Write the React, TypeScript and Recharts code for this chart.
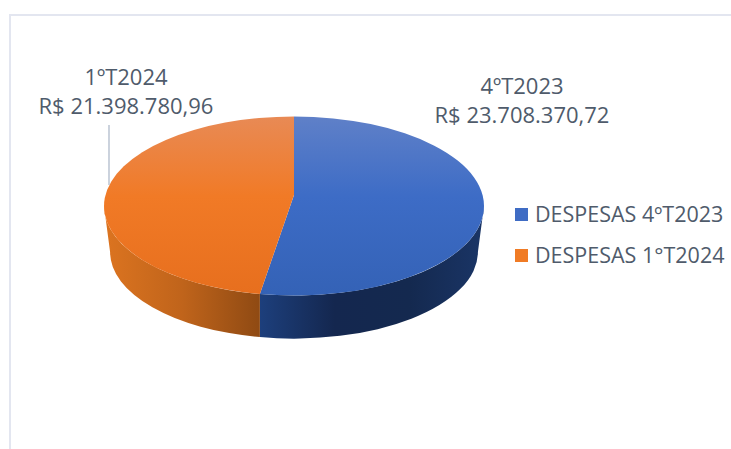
import React from 'react';
import { PieChart, Pie, Legend } from 'recharts';

const labelNames = ['4ºT2023', '1ºT2024'];
const legendNames = ['DESPESAS 4ºT2023', 'DESPESAS 1°T2024'];
const values = [23708370.72, 21398780.96];
const valueLabels = ['R$ 23.708.370,72', 'R$ 21.398.780,96'];

const TEXT_COLOR = '#4f5b6b';
const LEGEND_COLORS = ['#3f6cc4', '#f07b25'];
const FONT = '"Open Sans", sans-serif';

const tableData = legendNames.map((name, i) => ({
  name,
  label: labelNames[i],
  value: values[i],
  valueLabel: valueLabels[i],
  fill: LEGEND_COLORS[i],
}));

// squash factor of the tilted disc, and height of its side wall
const TILT = 0.471;
const DEPTH = 46;
const APEX_SHIFT = 11;
// the underside of the disc looks a little smaller than the top
const UNDER_SCALE = 0.968;

const gradients = [
  { top: ['#5f80c8', '#3d6cc6', '#3462b6'], wall: ['#1d3f7c', '#14274f', '#14294f', '#1a3566'] },
  { top: ['#e88a55', '#f17a26', '#e76f1e'], wall: ['#dc7420', '#c0641b', '#8f4a13'] },
];

// perspective: the slice edge leaves the raised apex and runs to the rim,
// so the angle on the ellipse differs a little from the data angle
const rimAngle = (deg: number, ry: number) => {
  const r = (deg * Math.PI) / 180;
  const dx = Math.cos(r);
  const dy = -ry * Math.sin(r);
  const s = APEX_SHIFT / ry;
  const a = dx * dx + (dy / ry) * (dy / ry);
  const b = (-2 * s * dy) / ry;
  const c = s * s - 1;
  const t = (-b + Math.sqrt(b * b - 4 * a * c)) / (2 * a);
  const u = t * dx;
  const v = t * dy - APEX_SHIFT;
  const base = (Math.atan2(-v / ry, u) * 180) / Math.PI;
  // keep it on the same turn as the data angle
  return base + Math.round((deg - base) / 360) * 360;
};

const Slice3D = (props: any) => {
  const { cx, cy, outerRadius, startAngle, endAngle, index } = props;
  const rx = outerRadius;
  const ry = outerRadius * TILT;
  const rxB = rx * UNDER_SCALE;
  const ryB = ry * UNDER_SCALE;
  const pt = (deg: number) => {
    const r = (deg * Math.PI) / 180;
    return [cx + rx * Math.cos(r), cy - ry * Math.sin(r)];
  };
  // point on the underside rim straight below a top rim x
  const under = (x: number) => {
    const c = Math.max(-1, Math.min(1, (x - cx) / rxB));
    return [cx + rxB * c, cy + DEPTH + ryB * Math.sqrt(1 - c * c)];
  };
  const from = rimAngle(startAngle, ry);
  const to = rimAngle(endAngle, ry);
  const [sx, sy] = pt(from);
  const [ex, ey] = pt(to);
  const large = Math.abs(from - to) > 180 ? 1 : 0;
  const top = `M${cx},${cy - APEX_SHIFT} L${sx},${sy} A${rx},${ry} 0 ${large} 1 ${ex},${ey} Z`;

  // only the front half of the rim shows a wall
  const wallStart = Math.min(from, 0);
  const wallEnd = Math.max(to, -180);
  let wall = '';
  if (wallStart > wallEnd) {
    const [ax, ay] = pt(wallStart);
    const [bx, by] = pt(wallEnd);
    const [ux, uy] = under(ax);
    const [vx, vy] = under(bx);
    wall = `M${ax},${ay} A${rx},${ry} 0 0 1 ${bx},${by} L${vx},${vy} A${rxB},${ryB} 0 0 0 ${ux},${uy} Z`;
  }
  const g = gradients[index];
  return (
    <g>
      <defs>
        <linearGradient id={`top${index}`} x1="0" y1="0" x2="0" y2="1">
          <stop offset="0%" stopColor={g.top[0]} />
          <stop offset="45%" stopColor={g.top[1]} />
          <stop offset="100%" stopColor={g.top[2]} />
        </linearGradient>
        <linearGradient id={`wall${index}`} x1="0" y1="0" x2="1" y2="0">
          {g.wall.map((c, i) => (
            <stop key={i} offset={`${(i / (g.wall.length - 1)) * 100}%`} stopColor={c} />
          ))}
        </linearGradient>
      </defs>
      {wall && <path d={wall} fill={`url(#wall${index})`} />}
      <path d={top} fill={`url(#top${index})`} />
    </g>
  );
};

// data labels sit outside the disc, offsets are from the disc centre
const labelOffsets = [
  { x: 228, y: -112 },
  { x: -168, y: -121 },
];

const SliceLabel = (props: any) => {
  const { cx, cy, index, payload } = props;
  const off = labelOffsets[index];
  const x = cx + off.x;
  const y = cy + off.y;
  return (
    <g>
      {index === 1 && (
        <line x1={cx - 185} x2={cx - 185} y1={cy - 81} y2={cy - 21} stroke="#a9b5c6" strokeWidth={1.2} />
      )}
      <text x={x} y={y} textAnchor="middle" fontFamily={FONT} fontSize={22} fill={TEXT_COLOR}>
        <tspan x={x}>{payload.label}</tspan>
        <tspan x={x} dy={29}>{payload.valueLabel}</tspan>
      </text>
    </g>
  );
};

const App = () => (
  <div style={{ position: 'absolute', left: 0, top: 0, width: 731, height: 449, background: '#fff', overflow: 'hidden' }}>
    <div
      style={{
        position: 'absolute',
        left: 9,
        top: 14,
        width: 722,
        height: 435,
        borderLeft: '2px solid #e3e6f0',
        borderTop: '2px solid #e3e6f0',
      }}
    />
    <div style={{ position: 'absolute', left: 0, top: 0 }}>
      <PieChart width={731} height={449} margin={{ top: 0, right: 0, bottom: 0, left: 0 }}>
        <Pie
          data={tableData}
          dataKey="value"
          nameKey="name"
          cx={294}
          cy={206}
          outerRadius={190}
          startAngle={90}
          endAngle={-270}
          stroke="none"
          isAnimationActive={false}
          shape={Slice3D}
          label={SliceLabel}
          labelLine={false}
        />
        <Legend
          layout="vertical"
          align="right"
          verticalAlign="top"
          iconType="square"
          iconSize={13}
          itemSorter={null}
          width={216}
          wrapperStyle={{ left: 515, right: 'auto', top: 190, width: 216, fontFamily: FONT }}
          formatter={(value: string) => (
            <span
              style={{
                color: TEXT_COLOR,
                fontSize: 21.5,
                lineHeight: '41px',
                marginLeft: 3,
                position: 'relative',
                top: 3,
                whiteSpace: 'nowrap',
              }}
            >
              {value}
            </span>
          )}
        />
      </PieChart>
    </div>
  </div>
);

export default App;
